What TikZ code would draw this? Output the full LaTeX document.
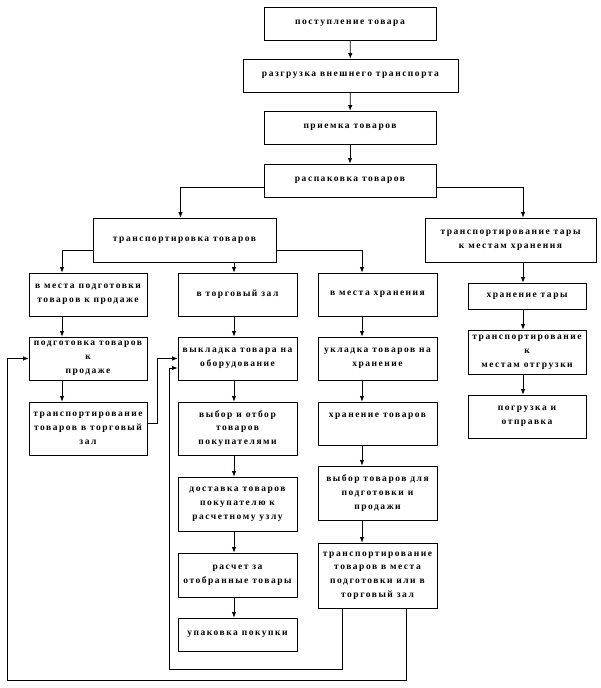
\documentclass[tikz,border=0pt]{standalone}
\usepackage{fontspec}
\usetikzlibrary{arrows.meta}
\newfontfamily\blkfont[LetterSpace=16]{Liberation Serif}
\begin{document}
\begin{tikzpicture}[x=1pt,y=-1pt,>={Latex[length=5.5pt,width=4.5pt]},
		blk/.style={draw,line width=.9pt,align=center,inner sep=1pt,
			font=\blkfont\bfseries\fontsize{9.5}{13.8}\selectfont},
		conn/.style={->,line width=.7pt}]
		\useasboundingbox (0,0) rectangle (600,688);
		\coordinate (lx) at (62,0);
		\coordinate (mx) at (234,0);
		\coordinate (rx) at (362,0);
		\coordinate (tx) at (523,0);
		\node[blk,minimum width=172,minimum height=33] (post) at (350,23.5) {поступление товара};
		\node[blk,minimum width=215,minimum height=33] (razg) at (350.5,75.5) {разгрузка внешнего транспорта};
		\node[blk,minimum width=172,minimum height=33] (priem) at (350,127.5) {приемка товаров};
		\node[blk,minimum width=172,minimum height=33] (raspak) at (350,180.5) {распаковка товаров};
		\node[blk,minimum width=183,minimum height=44] (transp) at (184.5,240) {транспортировка товаров};
		\node[blk,minimum width=171,minimum height=44] (tara) at (510.5,240) {транспортирование тары\\к местам хранения};
		\node[blk,minimum width=118,minimum height=43] (vmp) at (88,294.5) {в места подготовки\\товаров к продаже};
		\node[blk,minimum width=119,minimum height=43] (vtorg) at (237.5,294.5) {в торговый зал};
		\node[blk,minimum width=119,minimum height=43] (vmh) at (377.5,294.5) {в места хранения};
		\node[blk,minimum width=118,minimum height=26] (hrtary) at (527,296) {хранение тары};
		\node[blk,minimum width=118,minimum height=43] (podg) at (88,358.5) {подготовка товаров\\к\\продаже};
		\node[blk,minimum width=119,minimum height=43] (vyklad) at (237.5,358.5) {выкладка товара на\\оборудование};
		\node[blk,minimum width=119,minimum height=43] (uklad) at (377.5,358.5) {укладка товаров на\\хранение};
		\node[blk,minimum width=118,minimum height=44] (tk) at (527,352) {транспортирование\\к\\местам отгрузки};
		\node[blk,minimum width=118,minimum height=53] (ttz) at (88,428.5) {транспортирование\\товаров в торговый\\зал};
		\node[blk,minimum width=119,minimum height=53] (vybor) at (237.5,428.5) {выбор и отбор\\товаров\\покупателями};
		\node[blk,minimum width=119,minimum height=43,text depth=16pt] (hrtov) at (377.5,423.5) {хранение товаров};
		\node[blk,minimum width=118,minimum height=43] (pogr) at (527,416.5) {погрузка и\\отправка};
		\node[blk,minimum width=119,minimum height=54] (dost) at (237.5,504) {доставка товаров\\покупателю к\\расчетному узлу};
		\node[blk,minimum width=119,minimum height=54] (vybtov) at (377.5,493) {выбор товаров для\\подготовки и\\продажи};
		\node[blk,minimum width=119,minimum height=44] (rasch) at (237.5,575) {расчет за\\отобранные товары};
		\node[blk,minimum width=119,minimum height=65] (tmesta) at (377.5,575.5) {транспортирование\\товаров в места\\подготовки или в\\торговый зал};
		\node[blk,minimum width=119,minimum height=33] (upak) at (237.5,634.5) {упаковка покупки};
		\draw[conn] (post) -- (razg);
		\draw[conn] (razg) -- (priem);
		\draw[conn] (priem) -- (raspak);
		\draw[conn] ([yshift=-6.5]raspak.west) -| ([xshift=-4]transp.north);
		\draw[conn] ([yshift=-6.5]raspak.east) -| (tara.north -| tx);
		\draw[conn] ([yshift=-10]transp.west) -| (vmp.north -| lx);
		\draw[conn] (transp.south -| mx) -- (vtorg.north -| mx);
		\draw[conn] ([yshift=-10]transp.east) -| (vmh.north -| rx);
		\draw[conn] (vmp.south -| lx) -- (podg.north -| lx);
		\draw[conn] (podg.south -| lx) -- (ttz.north -| lx);
		\draw[conn] (vtorg.south -| mx) -- (vyklad.north -| mx);
		\draw[conn] (vyklad.south -| mx) -- (vybor.north -| mx);
		\draw[conn] (vybor.south -| mx) -- (dost.north -| mx);
		\draw[conn] (dost.south -| mx) -- (rasch.north -| mx);
		\draw[conn] (rasch.south -| mx) -- (upak.north -| mx);
		\draw[conn] (vmh.south -| rx) -- (uklad.north -| rx);
		\draw[conn] (uklad.south -| rx) -- (hrtov.north -| rx);
		\draw[conn] (hrtov.south -| rx) -- (vybtov.north -| rx);
		\draw[conn] (vybtov.south -| rx) -- (tmesta.north -| rx);
		\draw[conn] (tara.south -| tx) -- (hrtary.north -| tx);
		\draw[conn] (hrtary.south -| tx) -- (tk.north -| tx);
		\draw[conn] (tk.south -| tx) -- (pogr.north -| tx);
		\draw[conn] ([yshift=5.5]ttz.east) -- ++(10,0) |- (vyklad.west);
		\draw[conn] ([xshift=-35.5]tmesta.south) -- ++(0,61) -| ([xshift=-8,yshift=-9.5]vyklad.west) -- ([yshift=-9.5]vyklad.west);
		\draw[conn] ([xshift=28.5]tmesta.south) -- ++(0,72) -| ([xshift=-21]podg.west) -- (podg.west);
	\end{tikzpicture}
\end{document}
